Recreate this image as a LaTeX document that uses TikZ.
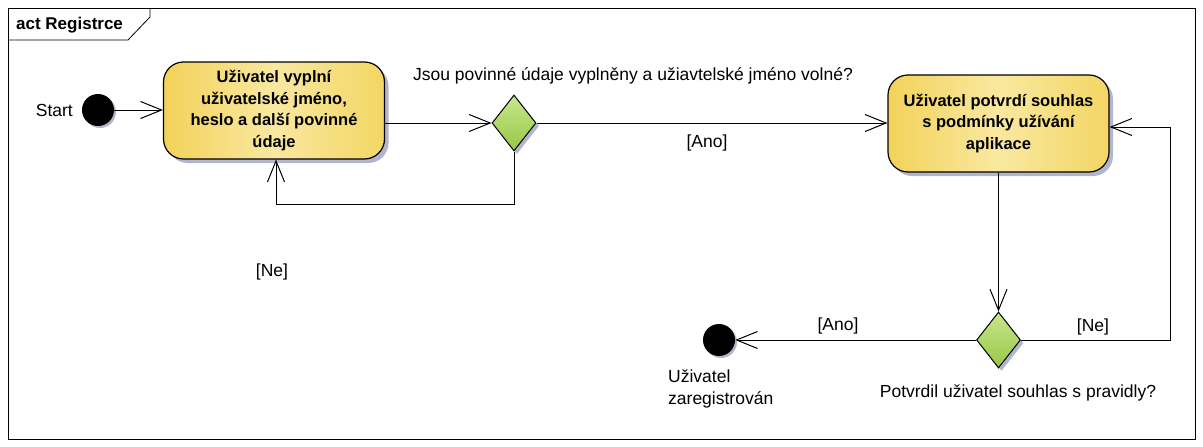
\documentclass[tikz,border=0pt]{standalone}
\usepackage{fontspec}
\setmainfont{Liberation Sans}
\usetikzlibrary{arrows.meta,shapes.geometric,shadows,calc}
\definecolor{shadowc}{RGB}{178,182,204}
\definecolor{actL}{RGB}{243,210,90}
\definecolor{actM}{RGB}{249,232,160}
\definecolor{actR}{RGB}{243,214,100}
\definecolor{decT}{RGB}{200,230,140}
\definecolor{decB}{RGB}{150,200,70}
\begin{document}
\begin{tikzpicture}[x=1pt,y=-1pt,
  every node/.style={font=\fontsize{17.5}{21}\selectfont},
  actbox/.style={draw=black, line width=1.2pt, rounded corners=20pt,
    minimum width=221pt, minimum height=97pt, align=center, inner sep=2pt,
    left color=actL, right color=actR, middle color=actM,
    font=\fontsize{16.5}{21.5}\selectfont\bfseries,
    drop shadow={shadow xshift=4pt, shadow yshift=-4pt, fill=shadowc, opacity=1}},
  decbox/.style={diamond, draw=black, line width=1pt, inner sep=0pt,
    minimum width=44pt, minimum height=56pt,
    top color=decT, bottom color=decB,
    drop shadow={shadow xshift=3pt, shadow yshift=-3pt, fill=shadowc, opacity=1}},
  dot/.style={circle, fill=black, inner sep=0pt, minimum size=32pt,
    drop shadow={shadow xshift=2pt, shadow yshift=-2pt, fill=shadowc, opacity=1}},
  arr/.style={line width=1pt, -{Straight Barb[length=21pt, width=17pt, line width=1pt]}},
  lbl/.style={inner sep=0pt}
]
\useasboundingbox (0,0) rectangle (1203,447);
% frame
\draw[line width=0.8pt] (8,8) rectangle (1195,439);
\draw[line width=0.8pt] (8,40) -- (128,40) -- (150,17) -- (150,8);
\node[lbl, font=\fontsize{17}{20}\selectfont\bfseries, anchor=west] (title) at (16,25) {act Registrce};

% nodes
\node[dot] (start) at (98,110) {};
\node[lbl, anchor=east] (startl) at (73,110) {Start};
\node[actbox] (a1) at (274,110.5) {Uživatel vyplní\\uživatelské jméno,\\heslo a další povinné\\údaje};
\node[decbox] (d1) at (514,123) {};
\node[lbl] (q1) at (633,76) {Jsou povinné údaje vyplněny a užiavtelské jméno volné?};
\node[actbox] (a2) at (998.5,123.5) {Uživatel potvrdí souhlas\\s podmínky užívání\\aplikace};
\node[decbox] (d2) at (998.5,340) {};
\node[lbl] (q2) at (1018,393) {Potvrdil uživatel souhlas s pravidly?};
\node[dot] (end) at (719,340) {};
\node[lbl, align=left, anchor=north west, font=\fontsize{17.5}{22}\selectfont] (endl) at (668,370) {Uživatel\\zaregistrován};

% connectors
\draw[arr] (start.east) -- (start.east -| a1.west);
\draw[arr] (a1.east |- d1.west) -- (d1.west);
\coordinate (c1) at (276,204);
\draw[arr] (d1.south) |- (c1) -- (c1 |- a1.south);
\node[lbl] (ne1) at (272,272) {[Ne]};
\draw[arr] (d1.east) -- (d1.east -| a2.west);
\node[lbl] (ano1) at (707,143) {[Ano]};
\draw[arr] (a2.south) -- (d2.north);
\draw[arr] (d2.west) -- (end.east);
\node[lbl] (ano2) at (838,326) {[Ano]};
\coordinate (c2) at (1170,127);
\draw[arr] (d2.east) -| (c2) -- (c2 -| a2.east);
\node[lbl] (ne2) at (1093,327) {[Ne]};
\end{tikzpicture}
\end{document}
